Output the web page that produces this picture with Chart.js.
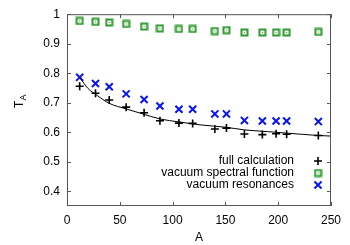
<!DOCTYPE html>
<html><head><meta charset="utf-8">
<script src="https://cdn.jsdelivr.net/npm/chart.js@4"></script>
<style>html,body{margin:0;padding:0;background:#fff}#wrap{width:350px;height:245px;position:relative}</style>
</head><body><div id="wrap"><canvas id="c" width="350" height="245"></canvas></div>
<script>
const massNumbers = [12,27,40,56,73,88,106,119,140,151,168,185,198,208,238];
const fullCalc    = [0.756,0.732,0.709,0.685,0.666,0.639,0.631,0.630,0.611,0.614,0.594,0.592,0.595,0.593,0.589];
const vacSpectral = [0.977,0.974,0.972,0.967,0.958,0.952,0.950,0.950,0.943,0.946,0.938,0.938,0.938,0.938,0.940];
const vacReson    = [0.786,0.765,0.754,0.730,0.711,0.689,0.678,0.678,0.662,0.662,0.640,0.638,0.638,0.638,0.636];
const curveA = [12,20,28,40,56,70,88,106,126,150,168,190,208,238,250];
const curveT = [0.786,0.748,0.726,0.698,0.679,0.664,0.645,0.635,0.625,0.617,0.608,0.602,0.597,0.589,0.587];
const xTicks = [0,50,100,150,200,250];
const yTicks = [0.4,0.5,0.6,0.7,0.8,0.9,1];
const legendLabels = ['full calculation','vacuum spectral function','vacuum resonances'];

const GREEN = '#2f9a2f', BLUE = '#0a14f0';
const FONT = '"Liberation Sans", Arial, sans-serif';

function boxedDot(){
  const c = document.createElement('canvas'); c.width = 9; c.height = 9;
  const g = c.getContext('2d');
  g.strokeStyle = GREEN; g.lineWidth = 2; g.strokeRect(1.5,1.5,6,6);
  g.fillStyle = GREEN; g.fillRect(4,4,1,1);
  return c;
}
const sqImg = boxedDot();
const pts = (ys) => massNumbers.map((a,i)=>({x:a,y:ys[i]}));

const frame = {
  id:'frame',
  afterDatasetsDraw(chart){
    const {ctx, chartArea:ca, scales:{x,y}} = chart;
    ctx.save();
    ctx.strokeStyle = '#555'; ctx.lineWidth = 1;
    ctx.strokeRect(ca.left+0.5, ca.top+0.5, ca.right-ca.left-1, ca.bottom-ca.top-1);
    ctx.beginPath();
    const L = 4;
    xTicks.forEach(v=>{ const px = Math.round(x.getPixelForValue(v))+0.5;
      ctx.moveTo(px, ca.bottom); ctx.lineTo(px, ca.bottom-L);
      ctx.moveTo(px, ca.top); ctx.lineTo(px, ca.top+L); });
    yTicks.forEach(v=>{ const py = Math.round(y.getPixelForValue(v))+0.5;
      ctx.moveTo(ca.left, py); ctx.lineTo(ca.left+L, py);
      ctx.moveTo(ca.right, py); ctx.lineTo(ca.right-L, py); });
    ctx.stroke();
    // legend
    ctx.font = '12px ' + FONT;
    ctx.textAlign = 'right'; ctx.textBaseline = 'middle';
    const rows = [161, 173, 185];
    legendLabels.forEach((t,i)=>{
      ctx.fillStyle = '#000';
      ctx.fillText(t, 294, rows[i]);
      const ds = chart.data.datasets[i+1];
      ctx.strokeStyle = ds.borderColor; ctx.fillStyle = ds.backgroundColor;
      ctx.lineWidth = ds.borderWidth || 1;
      Chart.helpers.drawPoint(ctx, {pointStyle: ds.pointStyle, radius: ds.pointRadius, rotation:0, borderWidth: ds.borderWidth || 1}, 318, rows[i]);
    });
    // axis titles
    ctx.fillStyle = '#000';
    ctx.textAlign = 'center'; ctx.textBaseline = 'alphabetic';
    ctx.font = '12px ' + FONT;
    ctx.fillText('A', 199, 241);
    ctx.translate(23, 108); ctx.rotate(-Math.PI/2);
    ctx.textAlign = 'left';
    ctx.fillText('T', 0, 0);
    ctx.font = '9px ' + FONT; ctx.fillText('A', 7.5, 3);
    ctx.restore();
  }
};

new Chart(document.getElementById('c'), {
  type:'scatter',
  data:{ datasets:[
    { label:'fit', type:'line', data: curveA.map((a,i)=>({x:a,y:curveT[i]})), borderColor:'#000', borderWidth:1, pointRadius:0, fill:false, cubicInterpolationMode:'monotone' },
    { label:legendLabels[0], data: pts(fullCalc), pointStyle:'cross', pointRadius:4, borderWidth:1.6, borderColor:'#000', backgroundColor:'#000' },
    { label:legendLabels[1], data: pts(vacSpectral), pointStyle: sqImg, pointRadius:4.5, borderWidth:1, borderColor:GREEN, backgroundColor:GREEN },
    { label:legendLabels[2], data: pts(vacReson), pointStyle:'crossRot', pointRadius:5, borderWidth:2, borderColor:BLUE, backgroundColor:BLUE }
  ]},
  options:{
    responsive:false, animation:false,
    layout:{ padding:{ top:14, right:19, left:0, bottom:0 } },
    plugins:{ legend:{display:false}, tooltip:{enabled:false} },
    scales:{
      x:{ type:'linear', min:0, max:250,
          afterBuildTicks(s){ s.ticks = xTicks.map(v=>({value:v})); },
          afterFit(s){ s.height = 39; },
          grid:{ display:false, drawTicks:false }, border:{display:false},
          ticks:{ color:'#000', font:{family:FONT, size:12}, padding:7, maxRotation:0 } },
      y:{ type:'linear', min:0.35, max:1,
          afterBuildTicks(s){ s.ticks = yTicks.map(v=>({value:v})); },
          afterFit(s){ s.width = 67; },
          grid:{ display:false, drawTicks:false }, border:{display:false},
          ticks:{ color:'#000', font:{family:FONT, size:12}, padding:7,
                  callback:(v)=> (Math.round(v*10)/10).toString() } }
    }
  },
  plugins:[frame]
});
</script></body></html>
